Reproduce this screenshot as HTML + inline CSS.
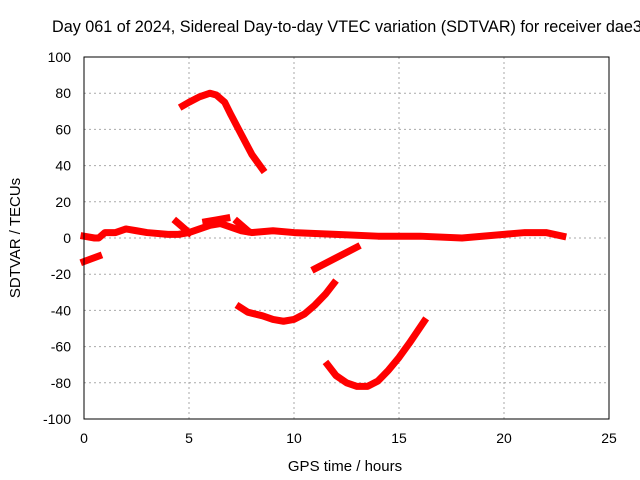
<!DOCTYPE html>
<html><head><meta charset="utf-8"><style>body{margin:0;background:#fff}svg{display:block;font-family:"Liberation Sans",sans-serif}</style></head>
<body>
<svg id="c" width="640" height="480">
<rect width="640" height="480" fill="#fff"/>
<text x="52" y="32" font-size="16.2">Day 061 of 2024, Sidereal Day-to-day VTEC variation (SDTVAR) for receiver dae3</text>
<text x="345" y="471" font-size="15" text-anchor="middle">GPS time / hours</text>
<text transform="translate(20,238) rotate(-90)" font-size="15" text-anchor="middle">SDTVAR / TECUs</text>
<g id="grid"></g><g id="series"></g>
<rect x="84" y="57" width="525" height="362" fill="none" stroke="#000" stroke-width="1"/>
</svg>
<script>
const xTicks=[0,5,10,15,20,25];
const yTicks=[-100,-80,-60,-40,-20,0,20,40,60,80,100];
const arcTop=[[4.7,73],[5,75],[5.5,78],[6,80],[6.3,79],[6.7,75],[7,68],[7.5,57],[8,46],[8.5,38]];
const nearZero=[[0,1],[0.5,0],[0.7,0],[1,3],[1.5,3],[2,5],[2.5,4],[3,3],[4,2],[4.5,2],[5,3],[5.5,5],[6,7],[6.5,8],[7,6],[7.5,4],[8,3],[9,4],[10,3],[12,2],[14,1],[16,1],[18,0],[20,2],[21,3],[22,3],[22.8,1]];
const spikeA=[[4.4,9],[5,3]];
const spikeB=[[7.3,9],[7.8,4]];
const spikeC=[[5.8,9],[6.3,10],[6.8,11]];
const earlyNeg=[[0,-13],[0.7,-10]];
const midNeg=[[11,-17],[12,-11],[13,-5]];
const troughA=[[7.4,-38],[7.8,-41],[8.5,-43],[9,-45],[9.5,-46],[10,-45],[10.5,-42],[11,-37],[11.5,-31],[11.9,-25]];
const troughB=[[11.6,-70],[12,-76],[12.5,-80],[13,-82],[13.5,-82],[14,-79],[14.5,-73],[15,-66],[15.5,-58],[16.2,-46]];
const seriesList=[arcTop,nearZero,spikeA,spikeB,spikeC,earlyNeg,midNeg,troughA,troughB];
const X=v=>84+v*21, Y=v=>238-v*1.81;
const NS="http://www.w3.org/2000/svg";
const g=document.getElementById('grid'), s=document.getElementById('series');
function mk(tag,attrs,parent){const e=document.createElementNS(NS,tag);for(const k in attrs)e.setAttribute(k,attrs[k]);parent.appendChild(e);return e;}
xTicks.forEach(t=>{
 if(t>0&&t<25){const l=mk('line',{x1:X(t),x2:X(t),y1:57,y2:419,stroke:'#aaa','stroke-dasharray':'2,3'},g);
 
 }
 const tx=mk('text',{x:X(t),y:443,'font-size':14,'text-anchor':'middle'},g);tx.textContent=t;
 
 
});
yTicks.forEach(t=>{
 if(t>-100&&t<100){const l=mk('line',{x1:84,x2:609,y1:Y(t),y2:Y(t),stroke:'#aaa','stroke-dasharray':'2,3'},g);
 
 }
 const tx=mk('text',{x:71,y:Y(t)+5,'font-size':14,'text-anchor':'end'},g);tx.textContent=t;
 
 
});
seriesList.forEach(d=>{
 const p=mk('polyline',{points:d.map(q=>X(q[0])+','+Y(q[1])).join(' '),fill:'none',stroke:'#f00','stroke-width':7,'stroke-linejoin':'round','stroke-linecap':'square'},s);
 
 
});
</script>
</body></html>
